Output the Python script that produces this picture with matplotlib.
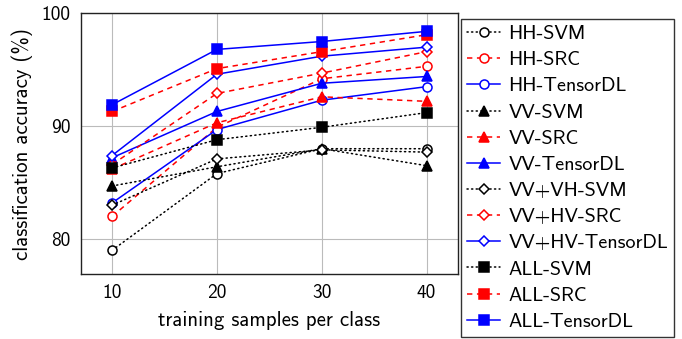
import matplotlib
matplotlib.use("Agg")
import matplotlib.pyplot as plt

plt.rcParams['font.family'] = ['cmss10', 'DejaVu Sans']
plt.rcParams['axes.unicode_minus'] = False

samples = [10, 20, 30, 40]
labels = ["HH-SVM", "HH-SRC", "HH-TensorDL",
          "VV-SVM", "VV-SRC", "VV-TensorDL",
          "VV+VH-SVM", "VV+HV-SRC", "VV+HV-TensorDL",
          "ALL-SVM", "ALL-SRC", "ALL-TensorDL"]

hh_svm = [79.0, 85.8, 88.0, 88.0]
hh_src = [82.0, 89.9, 94.2, 95.3]
hh_tdl = [83.2, 89.7, 92.3, 93.5]
vv_svm = [84.7, 86.4, 88.0, 86.5]
vv_src = [86.2, 90.3, 92.6, 92.2]
vv_tdl = [87.2, 91.3, 93.8, 94.4]
vvvh_svm = [83.0, 87.1, 87.9, 87.7]
vvhv_src = [86.6, 92.9, 94.7, 96.6]
vvhv_tdl = [87.4, 94.6, 96.2, 97.0]
all_svm = [86.3, 88.8, 89.9, 91.2]
all_src = [91.3, 95.1, 96.6, 98.1]
all_tdl = [91.9, 96.8, 97.5, 98.4]

series = [hh_svm, hh_src, hh_tdl, vv_svm, vv_src, vv_tdl,
          vvvh_svm, vvhv_src, vvhv_tdl, all_svm, all_src, all_tdl]

colors = ['black', 'red', 'blue']
styles = [(0, (0.8, 2.2)), (0, (3.5, 3.0)), '-']
markers = ['o', '^', 'D', 's']
filled = [False, True, False, True]
msizes = [6.5, 6.5, 5.2, 7.0]

fig = plt.figure(figsize=(6.82, 3.39), dpi=100)
ax = fig.add_axes([0.1183, 0.1917, 0.5533, 0.7691])

for i, (lab, vals) in enumerate(zip(labels, series)):
    g = i // 3
    m = i % 3
    c = colors[m]
    ax.plot(samples, vals, linestyle=styles[m], color=c, lw=1.1,
            marker=markers[g], markersize=msizes[g],
            markerfacecolor=c if filled[g] else 'white',
            markeredgecolor=c, markeredgewidth=1.1,
            dash_capstyle='round' if m == 0 else 'butt',
            label=lab, zorder=3)

ax.set_xlim(7, 43)
ax.set_ylim(76.9, 100)
ax.set_xticks(samples)
ax.set_yticks([80, 90, 100])
ax.grid(True, color='#bbbbbb', lw=0.8)
ax.set_axisbelow(True)
ax.tick_params(length=0, labelsize=14, pad=7.5)
for s in ax.spines.values():
    s.set_linewidth(1.0)
    s.set_color('#222222')
ax.set_xlabel('training samples per class', fontsize=15, labelpad=6)
ax.set_ylabel('classification accuracy (%)', fontsize=15, labelpad=6)

leg = ax.legend(loc='upper left', bbox_to_anchor=(1.008, 0.978),
                fontsize=14.5, frameon=True, fancybox=False,
                edgecolor='#333333', framealpha=1, borderpad=0.3,
                labelspacing=0.4, handlelength=1.65, handletextpad=0.4,
                borderaxespad=0)
leg.get_frame().set_linewidth(1.0)

fig.savefig('out.png', dpi=100)
